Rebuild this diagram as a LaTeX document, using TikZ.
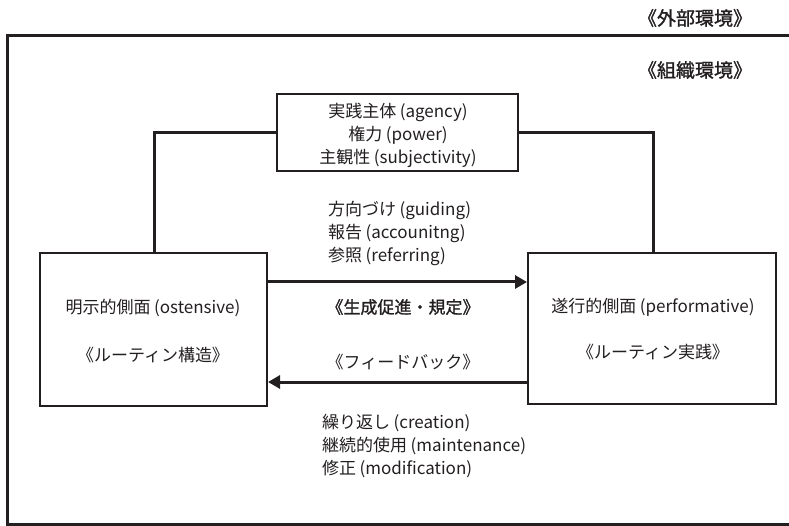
\documentclass[tikz,border=0pt]{standalone}
\usepackage{fontspec}
\setmainfont{Noto Sans CJK JP}
\newfontfamily\medfont{Noto Sans CJK JP}[BoldFont={Noto Sans CJK JP},BoldFeatures={FakeBold=1.3}]
\usetikzlibrary{arrows.meta}
\definecolor{ink}{HTML}{231F20}
\newcommand{\lp}{\kern0.2em(}
\begin{document}
\begin{tikzpicture}[x=1pt,y=-1pt,
  box/.style={draw=ink,line width=2pt,rectangle,inner sep=0pt},
  txt/.style={text=ink,inner sep=0pt,font=\fontsize{17}{23}\selectfont},
  med/.style={text=ink,inner sep=0pt,font=\fontsize{17}{23}\selectfont\medfont\bfseries},
  env/.style={text=ink,inner sep=0pt,font=\fontsize{19}{20}\selectfont\medfont\bfseries},
  conn/.style={draw=ink,line width=3pt},
  arr/.style={conn,-{Triangle[length=12pt,width=13pt]}}]
\useasboundingbox (0,0) rectangle (789,526);
\draw[ink,line width=3pt] (789,36) -- (7,36) -- (7,524) -- (789,524);
% boxes
\node[box,minimum width=241pt,minimum height=77pt] (agency) at (397.5,132.5) {};
\node[box,minimum width=227pt,minimum height=153pt] (ost) at (153.5,329.5) {};
\node[box,minimum width=248pt,minimum height=151pt] (perf) at (652,328.5) {};
% texts
\node[txt,align=center] (agencyt) at (398,135) {実践主体\lp agency)\\権力\lp power)\\主観性\lp subjectivity)};
\node[txt,align=left,anchor=west] (guide) at (328,233) {方向づけ\lp guiding)\\報告\lp accounitng)\\参照\lp referring)};
\node[med] (gen) at (403,307) {《生成促進・規定》};
\node[txt] (fb) at (403,362) {《フィードバック》};
\node[txt] (ostt) at (153,308) {明示的側面\lp ostensive)};
\node[txt] (ostr) at (153,355) {《ルーティン構造》};
\node[txt] (perft) at (653,307) {遂行的側面\lp performative)};
\node[txt] (perfr) at (653,352) {《ルーティン実践》};
\node[txt,align=left,anchor=west] (rep) at (322,446) {繰り返し\lp creation)\\継続的使用\lp maintenance)\\修正\lp modification)};
\node[env] (ext) at (695,18) {《外部環境》};
\node[env] (org) at (695,70) {《組織環境》};
% connectors
\coordinate (lx) at (154,0);
\coordinate (rx) at (653,0);
\coordinate (ya) at (0,282);
\coordinate (yb) at (0,382);
\draw[conn] (agency.west) -| (ost.north -| lx);
\draw[conn] (agency.east) -| (perf.north -| rx);
\draw[arr] (ost.east |- ya) -- (perf.west |- ya);
\draw[arr] (perf.west |- yb) -- (ost.east |- yb);
\end{tikzpicture}
\end{document}
